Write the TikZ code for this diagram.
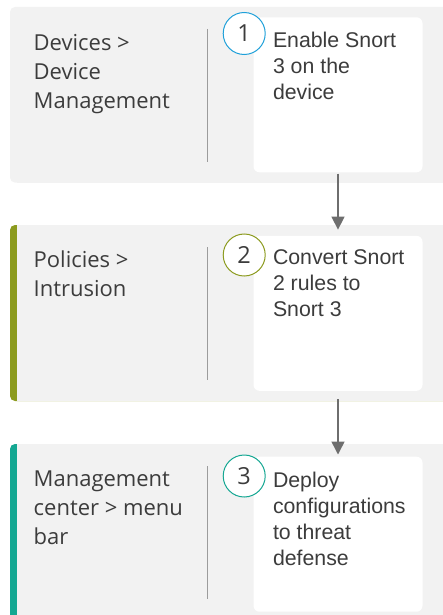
\documentclass[tikz,border=0pt]{standalone}
\usepackage{fontspec}
\setmainfont{Liberation Sans}
\newfontfamily\navfont{Open Sans}
\usetikzlibrary{arrows.meta,positioning}

\definecolor{panelgray}{HTML}{F2F2F2}
\definecolor{textgray}{HTML}{3C3C3C}
\definecolor{rulegray}{HTML}{9C9C9C}
\definecolor{arrowgray}{HTML}{6E6E6E}
\definecolor{stepblue}{HTML}{1FA0D9}
\definecolor{stepolive}{HTML}{8C9B1F}
\definecolor{stepteal}{HTML}{14A792}

\tikzset{
	stepcard/.style={fill=white, rounded corners=6pt, minimum width=169pt, minimum height=155pt, inner sep=0pt},
	stepnum/.style={circle, draw=#1, fill=white, line width=1pt, minimum size=42pt, inner sep=0pt, text=textgray, font=\navfont\fontsize{23.5}{23.5}\selectfont},
	navtext/.style={anchor=north west, align=left, inner sep=0pt, text=textgray, font=\navfont\fontsize{22}{29}\selectfont},
	cardtext/.style={anchor=north west, align=left, inner sep=0pt, text=textgray, font=\fontsize{21.3}{26}\selectfont},
	divider/.style={draw=rulegray, line width=1pt},
	flow/.style={draw=arrowgray, line width=1.5pt, -{Triangle[width=13pt,length=13pt]}}
}

\begin{document}
\begin{tikzpicture}[x=1pt,y=-1pt]
	\useasboundingbox (0,0) rectangle (443,615);
	% panels with coloured left edge
	\foreach \n/\top/\bot/\acc in {1/7/182.6/panelgray, 2/225/401/stepolive, 3/444/619.5/stepteal}
	{
		\fill[\acc, rounded corners=5pt] (10,\top) rectangle (470,\bot);
		\fill[panelgray] (17.3,\top) rectangle (470,\bot);
		\draw[divider] (207,\top+22) -- (207,\bot-21);
	}
	% cards
	\foreach \n/\cy/\ny/\col in {1/94.8/33.5/stepblue, 2/313.3/255/stepolive, 3/534.2/476/stepteal}
	{
		\node[stepcard] (card\n) at (338,\cy) {};
		\node[stepnum=\col] (num\n) at (244.2,\ny) {\n};
	}
	\node[cardtext, below right=14.5pt and 19.5pt of card1.north west] (task1) {Enable Snort\\3 on the\\device};
	\node[cardtext, below right=14pt and 19.5pt of card2.north west] (task2) {Convert Snort\\2 rules to\\Snort 3};
	\node[cardtext, below right=15.5pt and 19.5pt of card3.north west] (task3) {Deploy\\configurations\\to threat\\defense};
	% where to find it
	\node[navtext] (nav1) at (33.5,34) {Devices >\\Device\\Management};
	\node[navtext] (nav2) at (33.5,250.7) {Policies >\\Intrusion};
	\node[navtext] (nav3) at (33.5,470.7) {Management\\center > menu\\bar};
	% flow
	\draw[flow, shorten <=1pt, shorten >=6pt] (card1.south) -- (card2.north);
	\draw[flow, shorten <=8pt, shorten >=2pt] (card2.south) -- (card3.north);
\end{tikzpicture}
\end{document}
